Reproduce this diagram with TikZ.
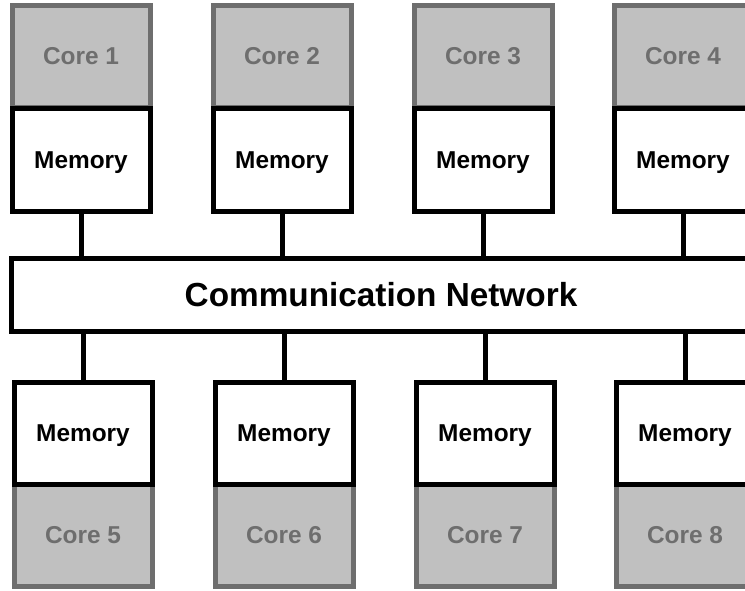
\documentclass[tikz,border=0pt]{standalone}
\usepackage{fontspec}
\setmainfont{Liberation Sans}
\usepackage{tikz}

\definecolor{coregray}{HTML}{C0C0C0}
\definecolor{coreline}{HTML}{6E6E6E}

\tikzset{
  corebox/.style={draw=coreline, fill=coregray, line width=3.75pt,
    minimum width=103.5pt, minimum height=76.5pt, inner sep=0pt, outer sep=0pt,
    text=coreline, font=\fontsize{18.3}{22}\selectfont\bfseries},
  membox/.style={draw=black, fill=white, line width=3.75pt,
    minimum width=103.5pt, minimum height=77pt, inner sep=0pt, outer sep=0pt,
    text depth=0pt, font=\fontsize{18.3}{22}\selectfont\bfseries},
  netbox/.style={draw=black, fill=white, line width=3.75pt,
    minimum width=554.25pt, minimum height=54.75pt, inner sep=0pt, outer sep=0pt,
    font=\fontsize{25}{30}\selectfont\bfseries},
  link/.style={line width=3.75pt}
}

\begin{document}
\begin{tikzpicture}[x=0.75pt,y=-0.75pt]
  \useasboundingbox (0,0) rectangle (745,590);
  \fill[white] (0,0) rectangle (745,590);
  \clip (0,0) rectangle (745,590);

  % Network in the middle
  \node[netbox] (net) at (381,295) {Communication Network};

  % Upper row: cores above their memories
  \foreach \i/\x in {1/81, 2/282, 3/483, 4/683} {
    \node[corebox] (core\i) at (\x,56.5) {Core \i};
    \node[membox] (mem\i) at (\x,160) {Memory};
    \draw[link] (mem\i.south) -- (mem\i.south |- net.north);
  }

  % Lower row: memories above their cores
  \foreach \i/\x in {5/83, 6/284, 7/485, 8/685} {
    \node[corebox] (core\i) at (\x,535.5) {Core \i};
    \node[membox] (mem\i) at (\x,433.5) {Memory};
    \draw[link] (net.south -| mem\i.north) -- (mem\i.north);
  }
\end{tikzpicture}
\end{document}
